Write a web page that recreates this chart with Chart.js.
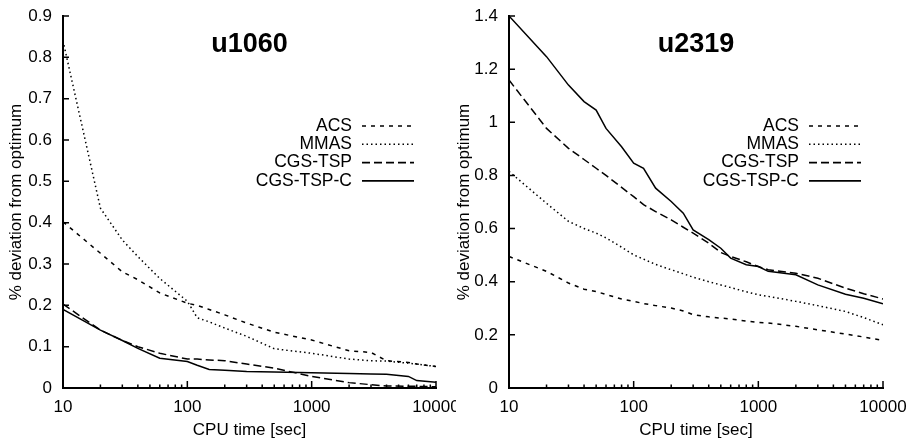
<!DOCTYPE html>
<html>
<head>
<meta charset="utf-8">
<script src="https://cdn.jsdelivr.net/npm/chart.js@4/dist/chart.umd.min.js"></script>
<style>
html, body { margin: 0; padding: 0; background: #fff; }
#wrap { position: relative; width: 913px; height: 445px; }
canvas { position: absolute; top: 0; }
</style>
</head>
<body>
<div id="wrap">
    <canvas id="u1060" width="456" height="445" style="left:0"></canvas>
    <canvas id="u2319" width="457" height="445" style="left:456px"></canvas>
</div>
<script>
const seriesNames = ["ACS", "MMAS", "CGS-TSP", "CGS-TSP-C"];
const xTicks = [10, 100, 1000, 10000];

// u1060 (left)
const u1060Times = [10, 20, 30, 40, 60, 100, 120, 150, 200, 300, 500, 1000, 2000, 3000, 4000, 6000, 7000, 10000];
const u1060ACS   = [0.402, 0.326, 0.281, 0.262, 0.230, 0.205, 0.200, 0.190, 0.177, 0.157, 0.135, 0.116, 0.090, 0.086, 0.066, 0.062, 0.058, 0.052];
const u1060MMAS  = [0.840, 0.435, 0.358, 0.318, 0.265, 0.210, 0.170, 0.160, 0.145, 0.125, 0.095, 0.084, 0.070, 0.066, 0.065, 0.060, 0.058, 0.052];
const u1060CGS   = [0.203, 0.140, 0.115, 0.100, 0.084, 0.070, 0.070, 0.068, 0.066, 0.058, 0.048, 0.028, 0.013, 0.008, 0.005, 0.004, 0.004, 0.003];
const u1060CGSC  = [0.190, 0.140, 0.115, 0.096, 0.072, 0.064, 0.055, 0.045, 0.043, 0.040, 0.039, 0.037, 0.035, 0.034, 0.033, 0.028, 0.018, 0.014];

// u2319 (right)
const u2319Times = [10, 20, 30, 40, 50, 60, 80, 100, 120, 150, 200, 250, 300, 400, 500, 600, 800, 1000, 1200, 2000, 3000, 5000, 7000, 10000];
const u2319ACS   = [0.495, 0.439, 0.395, 0.372, 0.363, 0.352, 0.335, 0.326, 0.318, 0.310, 0.301, 0.290, 0.276, 0.268, 0.263, 0.260, 0.252, 0.247, 0.245, 0.232, 0.219, 0.203, 0.192, 0.179];
const u2319MMAS  = [0.815, 0.695, 0.627, 0.600, 0.583, 0.565, 0.530, 0.501, 0.485, 0.465, 0.445, 0.430, 0.417, 0.400, 0.388, 0.378, 0.362, 0.351, 0.345, 0.326, 0.310, 0.288, 0.265, 0.238];
const u2319CGS   = [1.159, 0.977, 0.902, 0.860, 0.827, 0.800, 0.755, 0.720, 0.690, 0.664, 0.633, 0.605, 0.583, 0.545, 0.510, 0.495, 0.475, 0.457, 0.445, 0.432, 0.413, 0.376, 0.355, 0.335];
const u2319CGSC  = [1.400, 1.247, 1.140, 1.078, 1.046, 0.977, 0.908, 0.846, 0.827, 0.752, 0.702, 0.658, 0.595, 0.558, 0.526, 0.489, 0.464, 0.457, 0.439, 0.426, 0.388, 0.353, 0.338, 0.317];

const dashes = { "ACS": [4, 5], "MMAS": [1.5, 3], "CGS-TSP": [8, 4], "CGS-TSP-C": [] };
const FONT = "'Liberation Sans', Arial, sans-serif";

// inward ticks, title and gnuplot-style legend
const gnuplotLook = {
    id: "gnuplotLook",
    afterDatasetsDraw(chart, args, opts) {
        const { ctx, chartArea: a, scales: { x, y } } = chart;
        ctx.save();
        ctx.strokeStyle = "#000";
        ctx.fillStyle = "#000";
        ctx.lineWidth = 1.5;
        ctx.setLineDash([]);
        ctx.beginPath();
        for (let d = 10; d < 10000; d *= 10) {
            for (let m = 1; m <= 10; m++) {
                const px = x.getPixelForValue(d * m);
                const len = (m === 1 || m === 10) ? 7 : 3.5;
                ctx.moveTo(px, a.bottom);
                ctx.lineTo(px, a.bottom - len);
            }
        }
        y.ticks.forEach(t => {
            const py = y.getPixelForValue(t.value);
            ctx.moveTo(a.left, py);
            ctx.lineTo(a.left + 6, py);
        });
        ctx.stroke();

        ctx.font = "bold 27px " + FONT;
        ctx.textAlign = "center";
        ctx.textBaseline = "middle";
        ctx.fillText(opts.title, (a.left + a.right) / 2, a.top + 29);

        ctx.font = "17.5px " + FONT;
        ctx.textAlign = "right";
        ctx.lineWidth = 1.6;
        chart.data.datasets.forEach((ds, i) => {
            const ly = a.top + 110 + i * 18.3;
            ctx.fillText(ds.label, a.right - 84, ly);
            ctx.beginPath();
            ctx.setLineDash(ds.borderDash);
            ctx.moveTo(a.right - 74, ly);
            ctx.lineTo(a.right - 22, ly);
            ctx.stroke();
        });
        ctx.restore();
    }
};

function makeChart(id, title, times, series, yMax, yStep, yWidth, padRight, yTitlePad) {
    new Chart(document.getElementById(id), {
        type: "line",
        data: {
            datasets: series.map((vals, i) => ({
                label: seriesNames[i],
                data: times.map((t, j) => ({ x: t, y: vals[j] })),
                borderColor: "#000",
                borderWidth: 1.5,
                borderDash: dashes[seriesNames[i]],
                pointRadius: 0,
                tension: 0,
                fill: false
            }))
        },
        options: {
            responsive: false,
            animation: false,
            layout: { padding: { top: 16, right: padRight, bottom: 0, left: 0 } },
            plugins: {
                legend: { display: false },
                tooltip: { enabled: false },
                gnuplotLook: { title }
            },
            scales: {
                x: {
                    type: "logarithmic",
                    min: 10,
                    max: 10000,
                    grid: { display: false, drawTicks: false },
                    border: { display: true, color: "#000", width: 2 },
                    afterBuildTicks: s => { s.ticks = xTicks.map(v => ({ value: v })); },
                    afterFit: s => { s.height = 57; s.paddingLeft = 0; s.paddingRight = 0; },
                    ticks: {
                        autoSkip: false, maxRotation: 0, padding: 9,
                        color: "#000", font: { family: FONT, size: 17 },
                        callback: v => String(v)
                    },
                    title: {
                        display: true, text: "CPU time [sec]", color: "#000",
                        font: { family: FONT, size: 17, lineHeight: 1 },
                        padding: { top: 0, bottom: 6 }
                    }
                },
                y: {
                    min: 0,
                    max: yMax,
                    grid: { display: false, drawTicks: false },
                    border: { display: true, color: "#000", width: 2 },
                    afterFit: s => { s.width = yWidth; s.paddingTop = 0; s.paddingBottom = 0; },
                    ticks: {
                        stepSize: yStep, padding: 11,
                        color: "#000", font: { family: FONT, size: 17 },
                        callback: v => String(+v.toFixed(2))
                    },
                    title: {
                        display: true, text: "% deviation from optimum", color: "#000",
                        font: { family: FONT, size: 17, lineHeight: 1 },
                        padding: { top: yTitlePad, bottom: 0 }
                    }
                }
            }
        },
        plugins: [gnuplotLook]
    });
}

makeChart("u1060", "u1060", u1060Times, [u1060ACS, u1060MMAS, u1060CGS, u1060CGSC], 0.9, 0.1, 63, 20, 8);
makeChart("u2319", "u2319", u2319Times, [u2319ACS, u2319MMAS, u2319CGS, u2319CGSC], 1.4, 0.2, 53, 30, 0);
</script>
</body>
</html>
